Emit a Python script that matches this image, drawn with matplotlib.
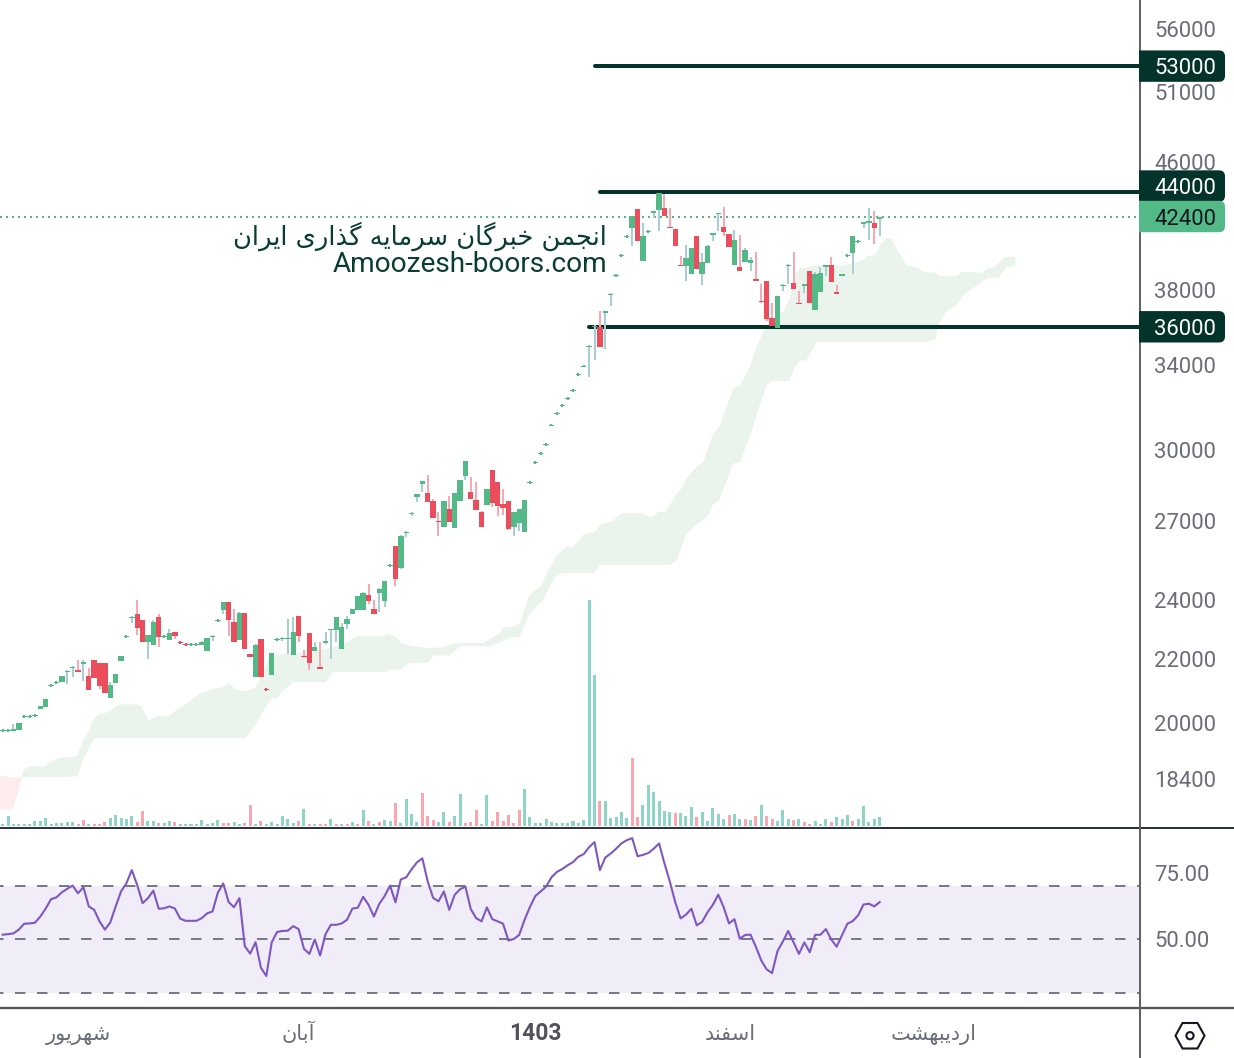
import matplotlib
matplotlib.use('Agg')
import matplotlib.pyplot as plt
from matplotlib.lines import Line2D
from matplotlib.patches import FancyBboxPatch, Polygon, Circle
from matplotlib.transforms import Affine2D, Bbox

W, H = 1234, 1058

# ---------- candles ----------
opens = [19770,19770,19770,19790,20180,20180,20210,20420,20480,21130,21230,21250,21580,21700,21640,21830,21440,21960,21860,21860,20750,21220,
 21930,22730,23360,23510,23300,22550,22450,23400,22730,22620,22890,22560,22490,22460,22460,22450,22250,22730,23270,23650,23930,23230,
 22620,23540,22150,21410,22650,21040,21480,22630,22660,22650,22120,23440,22090,22860,22250,21730,22520,22960,22960,22320,23160,23510,
 23650,23650,24180,23680,24250,23970,25250,26010,25170,26520,27280,27970,28510,28130,27800,26990,26750,27470,26710,27800,28850,28170,
 27840,27350,27640,29110,28600,27680,27800,26750,26910,26550,28560,29420,29820,30220,31080,31640,32020,32350,32740,33530,33930,34950,
 36000,35990,36770,37750,38830,40000,41140,41680,42880,39690,41450,42640,42810,42940,41760,41620,39470,39400,38930,41190,38930,39570,
 41270,42530,41750,41310,39460,39340,39630,39570,38650,37410,38530,36470,35940,38260,39410,38420,37300,38250,39110,36910,37910,39340,
 39460,37910,38820,40000,40170,40840,41930,41990,41990,42240]
highs = [19820,19820,19970,20000,20240,20240,20270,20510,20720,21190,21280,21440,21640,21760,21960,21960,21700,21960,21860,21860,21250,21510,
 22090,22790,23440,24000,23300,22790,23300,23510,22790,22990,22890,22590,22520,22520,22520,22590,22690,22790,23340,23930,23930,23680,
 23580,23540,22150,22490,22650,21060,22190,22690,22720,23340,23400,23440,22290,22860,22550,22550,22890,23000,23400,23200,23440,23680,
 24150,24290,24580,24000,24430,24690,25320,26010,26430,26590,27350,28090,28640,28890,27880,27350,27800,28010,28130,28680,29500,28810,
 28600,27390,28300,29110,28600,28300,27800,27350,27470,27840,28640,29500,29900,30300,31170,31720,32100,32440,32830,33610,34020,35040,
 36100,36850,36850,37850,38930,40110,41250,42430,42880,41990,41560,42730,43910,43840,42940,41620,39990,40650,40460,41190,40170,40650,
 41380,42640,43000,41310,41560,41250,40460,39930,40230,38360,38530,37290,37680,38360,39520,40230,37960,38360,39110,39050,39340,39460,
 39930,38300,38930,40110,41190,40950,42060,42940,42750,42370]
lows = [19740,19740,19770,19790,20160,20160,20190,20420,20480,21110,21200,21250,21190,21410,21570,21280,21000,21380,21030,20910,20750,21220,
 21930,22700,23200,22790,22550,21990,22450,22390,22700,22620,22650,22500,22430,22430,22430,22450,22250,22590,23240,23510,22750,22550,
 22620,22320,22060,21410,21410,20980,21480,22600,22590,22150,22120,22550,22020,21640,22250,21670,22490,21990,22550,22320,22990,23510,
 23650,23650,23860,23510,23580,23750,25220,24510,25130,26350,27190,27760,28170,27760,27110,26390,26750,26950,26710,27800,28680,27880,
 27430,26750,27640,27550,27190,27230,26630,26390,26590,26550,28530,29390,29780,30180,31050,31600,31980,32310,32700,33490,33890,33430,
 34270,34950,34850,37130,38780,39950,41090,40580,40890,39690,41400,42310,41500,42430,41660,40580,39380,38530,38930,39220,38300,39570,
 40890,41500,41190,40520,39460,39110,39630,39110,38530,37290,36310,36040,35940,37960,38360,38080,37220,37850,37290,36910,37910,38820,
 38470,37790,38820,39950,38930,40790,41680,40950,40710,41190]
closes = [19800,19800,19820,20000,20210,20210,20240,20510,20720,21160,21260,21440,21610,21730,21570,21890,21000,21380,21130,20910,21160,21510,
 22090,22760,23420,23030,22550,22790,23230,22720,22760,22860,22750,22520,22460,22490,22490,22550,22690,22760,23310,23930,23300,22550,
 23540,22320,22060,22450,21410,21010,22190,22660,22690,22690,22890,22750,22060,21860,22390,21670,22590,23000,23400,23060,23340,23680,
 24150,24250,23970,23510,24400,24690,25290,24760,26390,26560,27320,28090,28640,27760,27110,26950,27800,26950,28130,28680,29500,27880,
 27430,26750,28300,27720,27600,27510,26670,27350,27470,27840,28600,29470,29860,30260,31130,31690,32070,32400,32790,33570,33980,35000,
 36050,34950,36850,37800,38890,40060,41200,42430,40890,41190,41510,42730,43910,42430,41690,40580,39410,39870,40460,39220,39630,40580,
 41380,42590,41440,40520,40950,39110,40340,39750,38530,37360,36420,36040,37680,38310,39470,38080,37250,38360,37290,38930,38990,39460,
 38470,37790,38930,40060,41190,40900,42060,42120,41680,42370]

# ---------- volume (arbitrary units) ----------
volumes = [6,30,6,6,6,6,15,15,24,6,9,9,12,12,6,18,6,6,6,12,24,33,24,21,30,12,45,15,15,9,9,15,12,6,6,6,6,18,6,9,18,9,9,12,6,9,63,6,15,6,12,6,30,21,9,15,51,6,6,6,6,21,6,6,6,12,6,48,15,6,12,18,15,69,9,81,36,12,99,30,18,12,42,12,
 30,96,9,12,48,6,93,15,42,15,33,9,48,111,27,9,9,21,12,9,9,9,15,9,18,678,453,75,75,24,27,42,24,204,27,63,123,102,75,45,42,39,39,30,57,27,42,15,54,36,21,33,36,21,21,18,30,63,30,21,15,48,21,18,21,12,6,15,6,21,12,27,21,33,15,21,60,12,21,27]
volume_dir = ('gggggggggg' 'ggggrrgrrr' 'gggggrrggr' 'ggrggggggg' 'grrggrrgrg' 'gggggrgrgr' 'rgrgrgrgrg' 'rggrggggrr'
              'rggrggrrrg' 'grrrrrrggg' 'gggggggggg' 'grgggggrrg' 'gggggrgggr' 'gggggrggrg' 'rgrrgggrgr' 'rgggrgggrg' 'gggg')

# ---------- RSI ----------
rsi = [51.8,52.0,52.3,53.7,55.9,56,56.3,58.6,61.6,65.1,65.8,67.7,69,70.2,67.3,69.6,62.4,61.1,56.8,53.7,56.4,62.4,68,71.1,76,70.4,63.6,65.5,68.3,61.5,61.7,62.4,61.6,57.8,57,57,57,58,59.8,60.5,67.6,71,64,62.1,65.5,47.5,44.7,49,39.4,36.3,48.9,52.8,53.2,53.3,55,53.9,46.5,44.6,50,44,52,55.5,55.5,56,57.4,61.6,61.9,66,63,58.6,63.4,66.3,70.2,63.9,72.5,73.3,76.3,78.9,80.4,71.7,65.6,64.3,68,
 61.1,66.7,68.8,69.8,61.4,58,56.8,62,57.6,56.8,55.9,49.6,50.2,51.7,57.4,62.2,66.3,68,69.8,73.3,75.3,76.4,77.8,79,81,82,84.6,86.5,76,80.7,82.2,84,86,87.2,88,81.2,81.7,82.4,84,86,78.5,71.7,64,57.9,59.3,61.5,55.3,56.6,60.2,63,66.8,62.1,56,57.6,50.3,51.7,51.8,47.2,42.1,38.8,37.4,45.6,49.2,53.2,48.9,44.6,48.9,45.2,51.7,51.8,53.9,50,47.3,51.6,55.9,56.9,59.1,63.1,63.4,62.4,64]

# ---------- Ichimoku cloud ----------
cloud_top_bar = [3.8,4.8,7.9,8.8,11.0,12.8,13.9,14.9,16.1,17.0,18.0,19.3,21.8,24.9,25.8,27.1,28.9,31.0,32.3,33.9,36.7,38.8,
 41.0,42.1,43.2,45.0,46.9,48.4,49.7,52.2,54.0,56.5,60.8,63.6,65.9,70.7,71.7,73.2,74.2,75.7,78.8,81.9,83.8,89.3,
 92.4,93.0,94.9,96.2,97.9,100.2,101.1,103.0,104.8,106.1,108.0,110.1,111.2,113.2,115.1,118.8,120.0,120.9,121.9,123.2,125.3,126.1,
 127.1,129.0,130.2,132.1,133.2,135.8,137.0,138.6,140.4,141.7,144.5,145.1,146.3,147.0,148.2,150.7,152.5,156.2,159.3,160.9,162.1,163.1,
 164.3,165.2,166.5,168.0,169.9,171.1,173.3,174.2,177.3,178.3,180.4,182.0,183.2,184.4,186.1,188.2]
cloud_top = [18630,18750,18750,18870,19010,19010,19050,19470,19790,20140,20280,20310,20560,20560,20490,20080,20210,20210,20390,20560,20900,21020,
 21090,21210,21030,20960,21070,21530,22070,22150,22170,22230,22350,22510,22750,22750,22820,22710,22510,22430,22350,22380,22510,22520,
 22850,23060,23070,23210,24180,24540,24970,25660,25980,25980,26460,26550,26870,26950,27310,27310,27160,27160,27360,27360,28120,28290,
 28750,29250,29440,30740,31040,32860,33020,33760,35130,35880,36730,36820,37550,38780,39260,39400,39460,39420,39650,39990,40050,40650,
 41090,41010,40240,39420,39320,39070,39010,38820,38820,39050,39050,38990,39280,39320,39930,39930]
cloud_low_bar = [3.5,13.9,14.9,16.1,17.0,45.2,47.2,48.4,50.0,51.1,52.0,52.8,53.9,60.1,61.2,71.4,72.0,74.2,75.4,79.1,80.0,83.1,85.0,90.6,92.4,94.3,96.0,98.0,99.3,100.5,102.7,104.2,110.0,111.0,124.0,125.3,127.0,128.4,131.0,132.0,133.2,135.8,137.0,139.1,140.4,142.0,143.2,146.2,147.3,148.2,149.3,151.2,151.6,171.1,173.3,174.1,175.1,177.3,178.9,181.7,182.9,185.1,186.6,188.2]
cloud_low = [18450,18470,18930,19260,19560,19560,19990,20340,20750,20750,20980,21060,21250,21250,21570,21570,21640,21660,21850,21870,22100,22110,22410,22410,22550,22710,22710,23530,23790,24000,24850,24980,24980,25280,25280,25470,26430,26740,27190,27640,27840,29400,29430,30740,31820,33020,33220,33220,33930,34230,34230,35140,35200,35200,35300,36190,36730,37180,37830,38400,38700,38720,39320,39420]
red_top_bar = [-0.5,1.4,3.5]
red_top = [18510,18450,18450]
red_low_bar = [-0.5,0.1,1.9,2.8,3.5]
red_low = [17640,17600,17600,18030,18450]

# ---------- levels, ticks, labels ----------
level_prices = [53000,44000,36000]
level_start_bar = [110.0,111.0,108.9]
level_label_shift = [0,5.5,0]
last_price = 42400
price_ticks = [56000,51000,46000,38000,34000,30000,27000,24000,22000,20000,18400]
rsi_ticks = [75,50]
rsi_bands = [70,50,30]
time_bars = [14,55,99,135.2,173.1]
time_labels = ['شهریور','آبان','1403','اسفند','اردیبهشت']
title_fa = 'انجمن خبرگان سرمایه گذاری ایران'
title_en = 'Amoozesh-boors.com'

assert len({len(opens), len(highs), len(lows), len(closes), len(volumes), len(volume_dir), len(rsi)}) == 1, \
    (len(opens), len(highs), len(lows), len(closes), len(volumes), len(volume_dir), len(rsi))

# ---------- Persian shaping (matplotlib draws left to right, without joining) ----------
FORMS = {'ا':(0xFE8D,0xFE8E),'آ':(0xFE81,0xFE82),'د':(0xFEA9,0xFEAA),'ذ':(0xFEAB,0xFEAC),'ر':(0xFEAD,0xFEAE),
         'ز':(0xFEAF,0xFEB0),'و':(0xFEED,0xFEEE),
         'ب':(0xFE8F,0xFE90,0xFE91,0xFE92),'ت':(0xFE95,0xFE96,0xFE97,0xFE98),'ج':(0xFE9D,0xFE9E,0xFE9F,0xFEA0),
         'خ':(0xFEA5,0xFEA6,0xFEA7,0xFEA8),'س':(0xFEB1,0xFEB2,0xFEB3,0xFEB4),'ش':(0xFEB5,0xFEB6,0xFEB7,0xFEB8),
         'ف':(0xFED1,0xFED2,0xFED3,0xFED4),'م':(0xFEE1,0xFEE2,0xFEE3,0xFEE4),'ن':(0xFEE5,0xFEE6,0xFEE7,0xFEE8),
         'ه':(0xFEE9,0xFEEA,0xFEEB,0xFEEC),'ی':(0xFBFC,0xFBFD,0xFBFE,0xFBFF),'گ':(0xFB92,0xFB93,0xFB94,0xFB95)}
def shape(text):
    if not any(ch in FORMS for ch in text):
        return text
    out = []
    for k, ch in enumerate(text):
        f = FORMS.get(ch)
        if f is None:
            out.append(ch); continue
        prev = text[k-1] if k else ' '
        nxt = text[k+1] if k+1 < len(text) else ' '
        from_prev = prev in FORMS and len(FORMS[prev]) == 4
        to_next = nxt in FORMS and len(f) == 4
        if from_prev and to_next: cp = f[3]
        elif from_prev: cp = f[1]
        elif to_next: cp = f[2]
        else: cp = f[0]
        out.append(chr(cp))
    return ''.join(reversed(out))

# ---------- colours ----------
UP, DOWN = '#53b987', '#eb4d5c'
UP_W, DOWN_W = '#a9ced3', '#f7a8b2'
VOL_UP, VOL_DOWN = '#8ed5c8', '#fba6af'
LEVEL = '#03332b'
AXTXT = '#6a6d78'

plt.rcParams['font.family'] = ['Roboto', 'DejaVu Sans']
fig = plt.figure(figsize=(W/100, H/100), dpi=100, facecolor='white')
px = Affine2D().scale(1, -1).translate(0, H)

def add_axes(x0, ytop, x1, ybot, **kw):
    return fig.add_axes([x0/W, 1-ybot/H, (x1-x0)/W, (ybot-ytop)/H], **kw)

XLIM = (-0.5, 211.2)
ax = add_axes(0, 0, 1139, 827)
ax.set_yscale('log')
ax.set_xlim(*XLIM)
ax.set_ylim(17139, 58462)
for s in ax.spines.values(): s.set_visible(False)
ax.patch.set_alpha(0)
ax.set_xticks([])
ax.yaxis.tick_right()
ax.minorticks_off()
ax.set_yticks(price_ticks, [str(v) for v in price_ticks])
ax.tick_params(axis='y', which='both', length=0, pad=11, labelsize=15.9, labelcolor=AXTXT)
ax.tick_params(axis='y', which='minor', labelright=False)

ax.fill(cloud_top_bar + cloud_low_bar[::-1], cloud_top + cloud_low[::-1], color='#ebf4ec', lw=0, zorder=1)
ax.fill(red_top_bar + red_low_bar[::-1], red_top + red_low[::-1], color='#fdecee', lw=0, zorder=1)

# volume on its own scale, same plot area
axv = add_axes(0, 0, 1139, 827, sharex=ax)
axv.set_ylim(-3, 2478)
axv.axis('off')
axv.patch.set_alpha(0)
xs = list(range(len(opens)))
axv.bar(xs, volumes, width=0.56, color=[VOL_UP if d == 'g' else VOL_DOWN for d in volume_dir], lw=0, zorder=2)
axv.set_zorder(1.5)
ax.set_zorder(1)

# levels
for p, s in zip(level_prices, level_start_bar):
    ax.plot([s, XLIM[1]], [p, p], color=LEVEL, lw=2.9, solid_capstyle='round', zorder=3)
ax.axhline(last_price, color=UP, lw=1.44, linestyle=(0, (1, 2)), zorder=3)

# candles
for i, (o, h, l, c) in enumerate(zip(opens, highs, lows, closes)):
    up = c >= o
    small = h / l < 1.0055
    col = UP if up else DOWN
    ax.vlines(i, l, h, color=col if small else (UP_W if up else DOWN_W), lw=1.44, zorder=4)
    ax.bar(i, abs(c-o), bottom=min(o, c), width=1.0, color=col, lw=0, zorder=5)

# RSI pane
axr = add_axes(0, 829, 1139, 1007)
axr.set_xlim(*XLIM)
axr.set_ylim(24.7, 91.4)
for s in axr.spines.values(): s.set_visible(False)
axr.axhspan(rsi_bands[2], rsi_bands[0], color='#f0edf8', lw=0, zorder=1)
for v in rsi_bands:
    axr.axhline(v, color='#787b86', lw=1.44, linestyle=(3.5, (5.25, 5.75)), zorder=2)
axr.plot(xs, rsi, color='#7e57c2', lw=1.5, zorder=3)
axr.yaxis.tick_right()
axr.set_yticks(rsi_ticks, [f'{v:.2f}' for v in rsi_ticks])
axr.tick_params(axis='y', length=0, pad=11, labelsize=15.9, labelcolor=AXTXT)
axr.set_xticks(time_bars, [shape(t) for t in time_labels])
axr.tick_params(axis='x', length=0, pad=23.8, labelsize=15, labelcolor=AXTXT)
for t in axr.get_xticklabels():
    t.set_va('baseline')
    t.set_family(['DejaVu Sans'] if t.get_text() != '1403' else ['Roboto'])
    if t.get_text() == '1403':
        t.set_fontweight('bold')
        t.set_color('#50535e')
        t.set_fontsize(16.5)

# watermark text
ax.text(607/1139, 1-245/827, shape(title_fa), transform=ax.transAxes, ha='right', va='baseline',
        family='DejaVu Sans', fontsize=18.5, color='#0a3d32', zorder=6)
ax.text(607.5/1139, 1-272.3/827, title_en, transform=ax.transAxes, ha='right', va='baseline',
        family='Roboto', fontsize=20.2, color='#0a3d32', zorder=6)

# frame lines
for (x0, y0, x1, y1, c, w) in [(0, 827.7, W, 827.7, '#2a2e39', 1.4), (0, 1008, W, 1008, '#555555', 1.6),
                               (1140, 0, 1140, H, '#5f5f5f', 1.4)]:
    fig.add_artist(Line2D([x0, x1], [y0, y1], color=c, lw=w, transform=px, zorder=4))

# price badges
fig.canvas.draw()
def badge(price, shift, face, txt):
    yc = H - ax.transData.transform((0, price))[1] - shift
    box = FancyBboxPatch((1120, yc-15.7), 105, 31.4, boxstyle='round,pad=0,rounding_size=6', fc=face, ec='none',
                         transform=px, zorder=5)
    fig.add_artist(box)
    box.set_clip_path(None)
    box.set_clip_box(Bbox([[1139, 0], [W, H]]))
    fig.text(1216/W, 1-yc/H, str(price), ha='right', va='center_baseline', fontsize=15.9, color=txt, zorder=6)
badge(level_prices[0], level_label_shift[0], LEVEL, 'white')
badge(level_prices[1], level_label_shift[1], LEVEL, 'white')
badge(last_price, 0, UP, '#131722')
badge(level_prices[2], level_label_shift[2], LEVEL, 'white')

# settings icon
hexv = [(1175.5,1035.7),(1182.5,1023),(1197.5,1023),(1204.5,1035.7),(1197.5,1048.5),(1182.5,1048.5)]
fig.add_artist(Polygon(hexv, closed=True, fc='none', ec='#131722', lw=1.5, transform=px, zorder=5, joinstyle='miter'))
fig.add_artist(Circle((1190, 1035.7), 3.6, fc='none', ec='#131722', lw=1.5, transform=px, zorder=5))

fig.savefig('out.png', dpi=100, facecolor='white')
